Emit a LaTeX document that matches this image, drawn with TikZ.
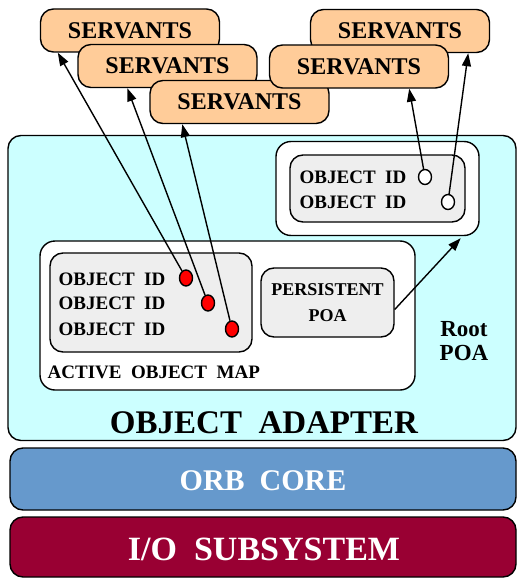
\documentclass[tikz,border=0pt]{standalone}
\usepackage{fontspec}
\setmainfont{Liberation Serif}
\usetikzlibrary{arrows.meta,shapes.geometric}
\definecolor{servfill}{HTML}{FFCC99}
\definecolor{oafill}{HTML}{CCFFFF}
\definecolor{mapfill}{HTML}{EEEEEE}
\definecolor{orbfill}{HTML}{6699CC}
\definecolor{iofill}{HTML}{990033}
\begin{document}
\begin{tikzpicture}[x=1pt,y=-1pt,line width=1.4pt,
    box/.style={rectangle,rounded corners=13pt,draw,inner sep=0pt},
    servant/.style={box,fill=servfill,minimum width=179pt,minimum height=43pt,
        font=\fontsize{24}{24}\bfseries},
    oid/.style={anchor=base west,inner sep=0pt,font=\fontsize{19}{19}\bfseries},
    redid/.style={ellipse,draw,fill=red,minimum width=13pt,minimum height=16pt,inner sep=0pt},
    whiteid/.style={ellipse,draw,fill=white,minimum width=13pt,minimum height=15pt,inner sep=0pt},
    link/.style={-{Triangle[length=13pt,width=9pt]}}]
        \useasboundingbox (0,0) rectangle (517,578);
        \path (262,288) node[box,fill=oafill,minimum width=508pt,minimum height=305pt] (oa) {};
        \path (264,433) node[anchor=base,font=\fontsize{33}{33}\bfseries] (oalabel) {OBJECT\ \ ADAPTER};
        \path (263,479) node[box,fill=orbfill,minimum width=506pt,minimum height=62pt] (orb) {};
        \path (263,490) node[anchor=base,text=white,font=\fontsize{30}{30}\bfseries] (orblabel) {ORB\ \ CORE};
        \path (263,547) node[box,fill=iofill,minimum width=506pt,minimum height=60pt] (io) {};
        \path (264,560) node[anchor=base,text=white,font=\fontsize{34}{34}\bfseries] (iolabel) {I/O\ \ SUBSYSTEM};
        \path (130,30.5) node[servant] (s1) {SERVANTS};
        \path (167.5,66) node[servant] (s2) {SERVANTS};
        \path (239.5,102) node[servant] (s3) {SERVANTS};
        \path (400,31) node[servant] (s4) {SERVANTS};
        \path (359,66.5) node[servant] (s5) {SERVANTS};
        \path (377.5,188.5) node[box,fill=white,rounded corners=15pt,minimum width=203pt,minimum height=94pt] (rootmap) {};
        \path (377.5,188.5) node[box,fill=mapfill,minimum width=175pt,minimum height=67pt] (rootids) {};
        \path (299,183) node[oid] (rid1) {OBJECT\ \ ID};
        \path (299,208) node[oid] (rid2) {OBJECT\ \ ID};
        \path (425,177) node[whiteid] (w1) {};
        \path (448,202) node[whiteid] (w2) {};
        \path (227.5,315.5) node[box,fill=white,rounded corners=15pt,minimum width=375pt,minimum height=149pt] (persmap) {};
        \path (151,302.5) node[box,fill=mapfill,minimum width=202pt,minimum height=99pt] (persids) {};
        \path (58,285) node[oid] (pid1) {OBJECT\ \ ID};
        \path (58,309) node[oid] (pid2) {OBJECT\ \ ID};
        \path (58,335) node[oid] (pid3) {OBJECT\ \ ID};
        \path (186,278) node[redid] (r1) {};
        \path (208,303) node[redid] (r2) {};
        \path (232,329) node[redid] (r3) {};
        \path (47,378) node[oid] (aom) {ACTIVE\ \ OBJECT\ \ MAP};
        \path (327.5,302.5) node[box,fill=mapfill,minimum width=133pt,minimum height=69pt,
            align=center,font=\fontsize{18}{26}\bfseries] (persist) {PERSISTENT\\POA};
        \path (464,341) node[align=center,font=\fontsize{23}{24}\bfseries] (root) {Root\\POA};
        \draw[link] (r1) -- ([xshift=18pt]s1.south west);
        \draw[link] (r2) -- ([xshift=50pt]s2.south west);
        \draw[link] (r3) -- ([xshift=33pt]s3.south west);
        \draw[link] (w1) -- ([xshift=-40pt]s5.south east);
        \draw[link] (w2) -- ([xshift=-22pt]s4.south east);
        \draw[link] ([yshift=-7pt]persist.east) -- ([xshift=-19pt,yshift=-2pt]rootmap.south east);
    \end{tikzpicture}
\end{document}
